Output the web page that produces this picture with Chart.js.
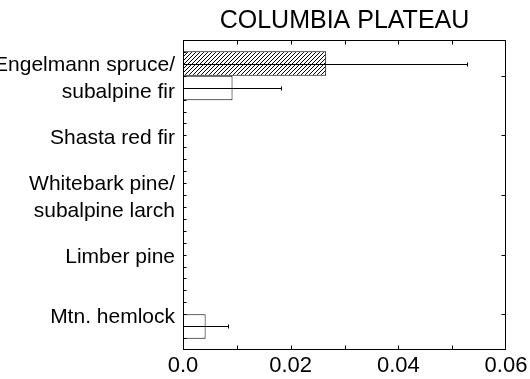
<!DOCTYPE html>
<html><head><meta charset="utf-8">
<script src="https://cdn.jsdelivr.net/npm/chart.js@4"></script>
<style>html,body{margin:0;padding:0;background:#fff}#wrap{width:530px;height:379px}</style>
</head><body><div id="wrap"><canvas id="c" width="530" height="379"></canvas></div>
<script>
const categories = [["Engelmann spruce/","subalpine fir"],"Shasta red fir",["Whitebark pine/","subalpine larch"],"Limber pine","Mtn. hemlock"];
const hatchedValues = [0.0266,0,0,0,0];
const hatchedErrors = [0.0262,0,0,0,0];
const openValues = [0.0092,0,0,0,0.0042];
const openErrors = [0.009,0,0,0,0.0042];
const xTickValues = [0,0.02,0.04,0.06];
const xTickLabels = ["0.0","0.02","0.04","0.06"];
const xMinorStep = 0.01;
const yMinorStep = 0.2;
const chartTitle = "COLUMBIA PLATEAU";

Chart.defaults.font.family = "'Liberation Sans', Arial, sans-serif";
Chart.defaults.color = '#000';

function hatch(){
  const s = 4;
  const c = document.createElement('canvas'); c.width = s; c.height = s;
  const g = c.getContext('2d');
  g.fillStyle = '#fff'; g.fillRect(0,0,s,s);
  g.strokeStyle = '#000'; g.lineWidth = 1;
  g.beginPath();
  g.moveTo(0,s); g.lineTo(s,0);
  g.moveTo(-1,1); g.lineTo(1,-1);
  g.moveTo(s-1,s+1); g.lineTo(s+1,s-1);
  g.stroke();
  return g.createPattern(c,'repeat');
}

const errs = [hatchedErrors, openErrors];

const framePlugin = {
  id:'frame',
  afterDatasetsDraw(chart){
    const ctx = chart.ctx, ca = chart.chartArea;
    const xs = chart.scales.x, ys = chart.scales.y;
    ctx.save();
    ctx.strokeStyle = '#000'; ctx.lineWidth = 1;
    chart.data.datasets.forEach((ds, di) => {
      const meta = chart.getDatasetMeta(di);
      meta.data.forEach((el, i) => {
        const v = ds.data[i].x, e = errs[di][i];
        if (!e) return;
        const y = Math.round(el.y) + 0.5;
        const x0 = xs.getPixelForValue(Math.max(0, v - e));
        const x1 = Math.round(xs.getPixelForValue(v + e)) + 0.5;
        ctx.beginPath();
        ctx.moveTo(x0, y); ctx.lineTo(x1, y);
        ctx.moveTo(x1, y - 2); ctx.lineTo(x1, y + 2);
        ctx.stroke();
      });
    });
    const L = Math.round(ca.left)+0.5, R = Math.round(ca.right)-0.5, T = Math.round(ca.top)+0.5, B = Math.round(ca.bottom)-0.5;
    ctx.strokeRect(L, T, R-L, B-T);
    ctx.beginPath();
    for (let v = xMinorStep; v < xs.max - 1e-9; v += xMinorStep) {
      const x = Math.round(xs.getPixelForValue(v)) + 0.5;
      ctx.moveTo(x, T); ctx.lineTo(x, T + 4);
      ctx.moveTo(x, B); ctx.lineTo(x, B - 4);
    }
    for (let i = 0; i < categories.length; i++) {
      const y = Math.round(ys.getPixelForValue(i)) + 0.5;
      ctx.moveTo(R, y); ctx.lineTo(R - 4, y);
    }
    for (let k = Math.ceil((ys.min + 1e-9)/yMinorStep); k*yMinorStep < ys.max - 1e-9; k++) {
      const y = Math.round(ys.getPixelForValue(k*yMinorStep)) + 0.5;
      ctx.moveTo(L, y); ctx.lineTo(L + 3, y);
    }
    ctx.stroke();
    ctx.restore();
  }
};

new Chart(document.getElementById('c'), {
  type: 'bar',
  data: {
    datasets: [
      { label: 'a', data: hatchedValues.map((v,i)=>({x:v,y:i})), backgroundColor: hatch(), borderColor:'#000', borderWidth:1, borderSkipped:false },
      { label: 'b', data: openValues.map((v,i)=>({x:v,y:i})), backgroundColor: '#fff', borderColor:'#000', borderWidth:1, borderSkipped:false }
    ]
  },
  options: {
    indexAxis: 'y',
    responsive: false,
    animation: false,
    devicePixelRatio: 1,
    barPercentage: 1,
    categoryPercentage: 0.822,
    layout: { padding: { top: 1, right: 24, left: 0, bottom: 0 } },
    plugins: {
      legend: { display: false },
      tooltip: { enabled: false },
      title: { display: true, text: chartTitle, fullSize: false, color:'#000',
        font: { size: 25, weight: 'normal', lineHeight: 1.08 }, padding: { top: 7, bottom: 5 } }
    },
    scales: {
      x: {
        type: 'linear', position: 'bottom', min: 0, max: 0.06, offset: false,
        afterBuildTicks: s => { s.ticks = xTickValues.map(v=>({value:v})); },
        ticks: { callback: (v,i)=>xTickLabels[i], font:{size:22}, color:'#000', padding:3, maxRotation:0, autoSkip:false },
        grid: { display:false, drawTicks:false, offset:false }, border: { display:false },
        afterFit: s => { s.height = 29; s.paddingLeft = 0; s.paddingRight = 0; }
      },
      y: {
        type: 'linear', position: 'left', min: -0.6, max: 4.6, reverse: true, offset: false,
        afterBuildTicks: s => { s.ticks = categories.map((_,i)=>({value:i})); },
        ticks: { callback: v => categories[v], font:{size:21, lineHeight:1.3}, color:'#000', padding:8, autoSkip:false, labelOffset:3 },
        grid: { display:false, drawTicks:false, offset:false }, border: { display:false },
        afterFit: s => { s.width = 183; s.paddingTop = 0; s.paddingBottom = 0; }
      }
    }
  },
  plugins: [framePlugin]
});
</script></body></html>
